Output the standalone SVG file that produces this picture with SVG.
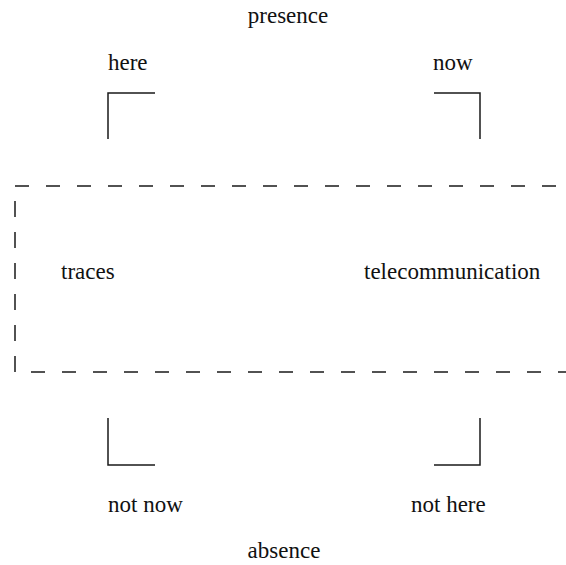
<svg xmlns="http://www.w3.org/2000/svg" width="566" height="565" viewBox="0 0 566 565">
<style>
  .t { font-family: "Liberation Serif", "Times New Roman", serif; font-size: 23px; fill: #111; }
  .ln { fill: none; stroke: #1a1a1a; stroke-width: 1.5; }
  .dash { fill: none; stroke: #1a1a1a; stroke-width: 1.5; stroke-dasharray: 14 17; }
  .vdash { fill: none; stroke: #1a1a1a; stroke-width: 1.5; stroke-dasharray: 16 15; }
</style>
<rect width="566" height="565" fill="#fff"/>
<g id="frame">
  <line class="dash" x1="15" y1="186" x2="566" y2="186"/>
  <line class="dash" x1="31" y1="372" x2="566" y2="372"/>
  <line class="vdash" x1="15" y1="201" x2="15" y2="372"/>
</g>
<g id="connectors">
  <path class="ln" d="M108,139 V93 H155"/>
  <path class="ln" d="M434,93 H480 V139"/>
  <path class="ln" d="M108,418 V465 H155"/>
  <path class="ln" d="M434,465 H480 V418"/>
</g>
<g id="presence"><text class="t" font-family="Liberation Serif, serif" x="288" y="23" text-anchor="middle">presence</text></g>
<g id="here"><text class="t" font-family="Liberation Serif, serif" x="108" y="70">here</text></g>
<g id="now"><text class="t" font-family="Liberation Serif, serif" x="433" y="70">now</text></g>
<g id="traces"><text class="t" font-family="Liberation Serif, serif" x="61" y="279">traces</text></g>
<g id="telecommunication"><text class="t" font-family="Liberation Serif, serif" x="364" y="279">telecommunication</text></g>
<g id="not-now"><text class="t" font-family="Liberation Serif, serif" x="108" y="512">not now</text></g>
<g id="not-here"><text class="t" font-family="Liberation Serif, serif" x="411" y="512">not here</text></g>
<g id="absence"><text class="t" font-family="Liberation Serif, serif" x="284" y="558" text-anchor="middle">absence</text></g>
</svg>
